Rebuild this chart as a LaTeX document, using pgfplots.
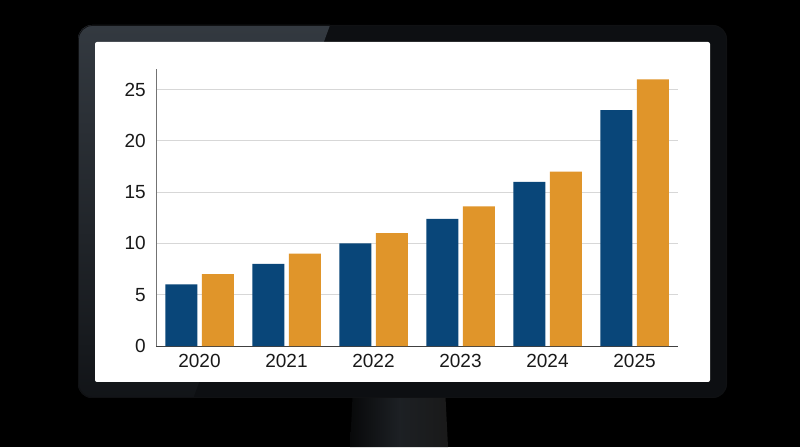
\documentclass[border=0pt]{standalone}
\usepackage{fontspec}
\setmainfont{Liberation Sans}
\usepackage{pgfplots}
\pgfplotsset{compat=1.18}

\definecolor{barblue}{RGB}{9,70,121}
\definecolor{barorange}{RGB}{224,149,42}
\definecolor{bezeldark}{RGB}{13,15,18}
\definecolor{bezellight}{RGB}{52,58,65}
\definecolor{gridgray}{RGB}{215,215,215}

\begin{document}
\begin{tikzpicture}[x=1pt,y=1pt]
\useasboundingbox (0,0) rectangle (800,447);
\fill[black] (0,0) rectangle (800,447);
% stand
\shade[left color=black!85!bezellight, right color=black!90, middle color=bezellight!55!black]
  (353,60) -- (445,60) -- (448,0) -- (350,0) -- cycle;
% bezel
\fill[bezeldark, rounded corners=14pt] (78,49) rectangle (727,422);
\begin{scope}
  \clip[rounded corners=14pt] (78,49) rectangle (727,422);
  \shade[top color=bezellight, bottom color=bezeldark!90!bezellight]
    (60,40) -- (190,40) -- (333,430) -- (60,430) -- cycle;
\end{scope}
\draw[black!70!bezellight, line width=0.8pt, rounded corners=14pt] (78.5,49.5) rectangle (726.5,421.5);
% screen
\fill[white, rounded corners=2pt] (95,65) rectangle (710,405);

\begin{axis}[
    at={(156pt,101pt)}, anchor=south west,
    scale only axis,
    width=522pt, height=277pt,
    xmin=-0.5, xmax=5.5,
    ymin=0, ymax=27,
    ybar=4.5pt, bar width=32pt,
    axis lines=left,
    axis line style={-},
    x axis line style={draw=black!75, line width=1pt},
    y axis line style={draw=black!55, line width=1pt},
    xtick={0,1,2,3,4,5},
    xticklabels={2020,2021,2022,2023,2024,2025},
    ytick={0,5,10,15,20,25},
    major tick length=0pt,
    ymajorgrids,
    major grid style={draw=gridgray, line width=0.9pt},
    /pgf/number format/assume math mode=true,
    tick label style={font=\fontsize{19}{22}\selectfont, text=black!90},
    yticklabel style={inner sep=0pt, xshift=-10pt},
    xticklabel style={inner sep=0pt, yshift=-8pt},
]
\addplot[fill=barblue, draw=none] coordinates {(0,6) (1,8) (2,10) (3,12.4) (4,16) (5,23)};
\addplot[fill=barorange, draw=none] coordinates {(0,7) (1,9) (2,11) (3,13.6) (4,17) (5,26)};
\end{axis}
\end{tikzpicture}
\end{document}
